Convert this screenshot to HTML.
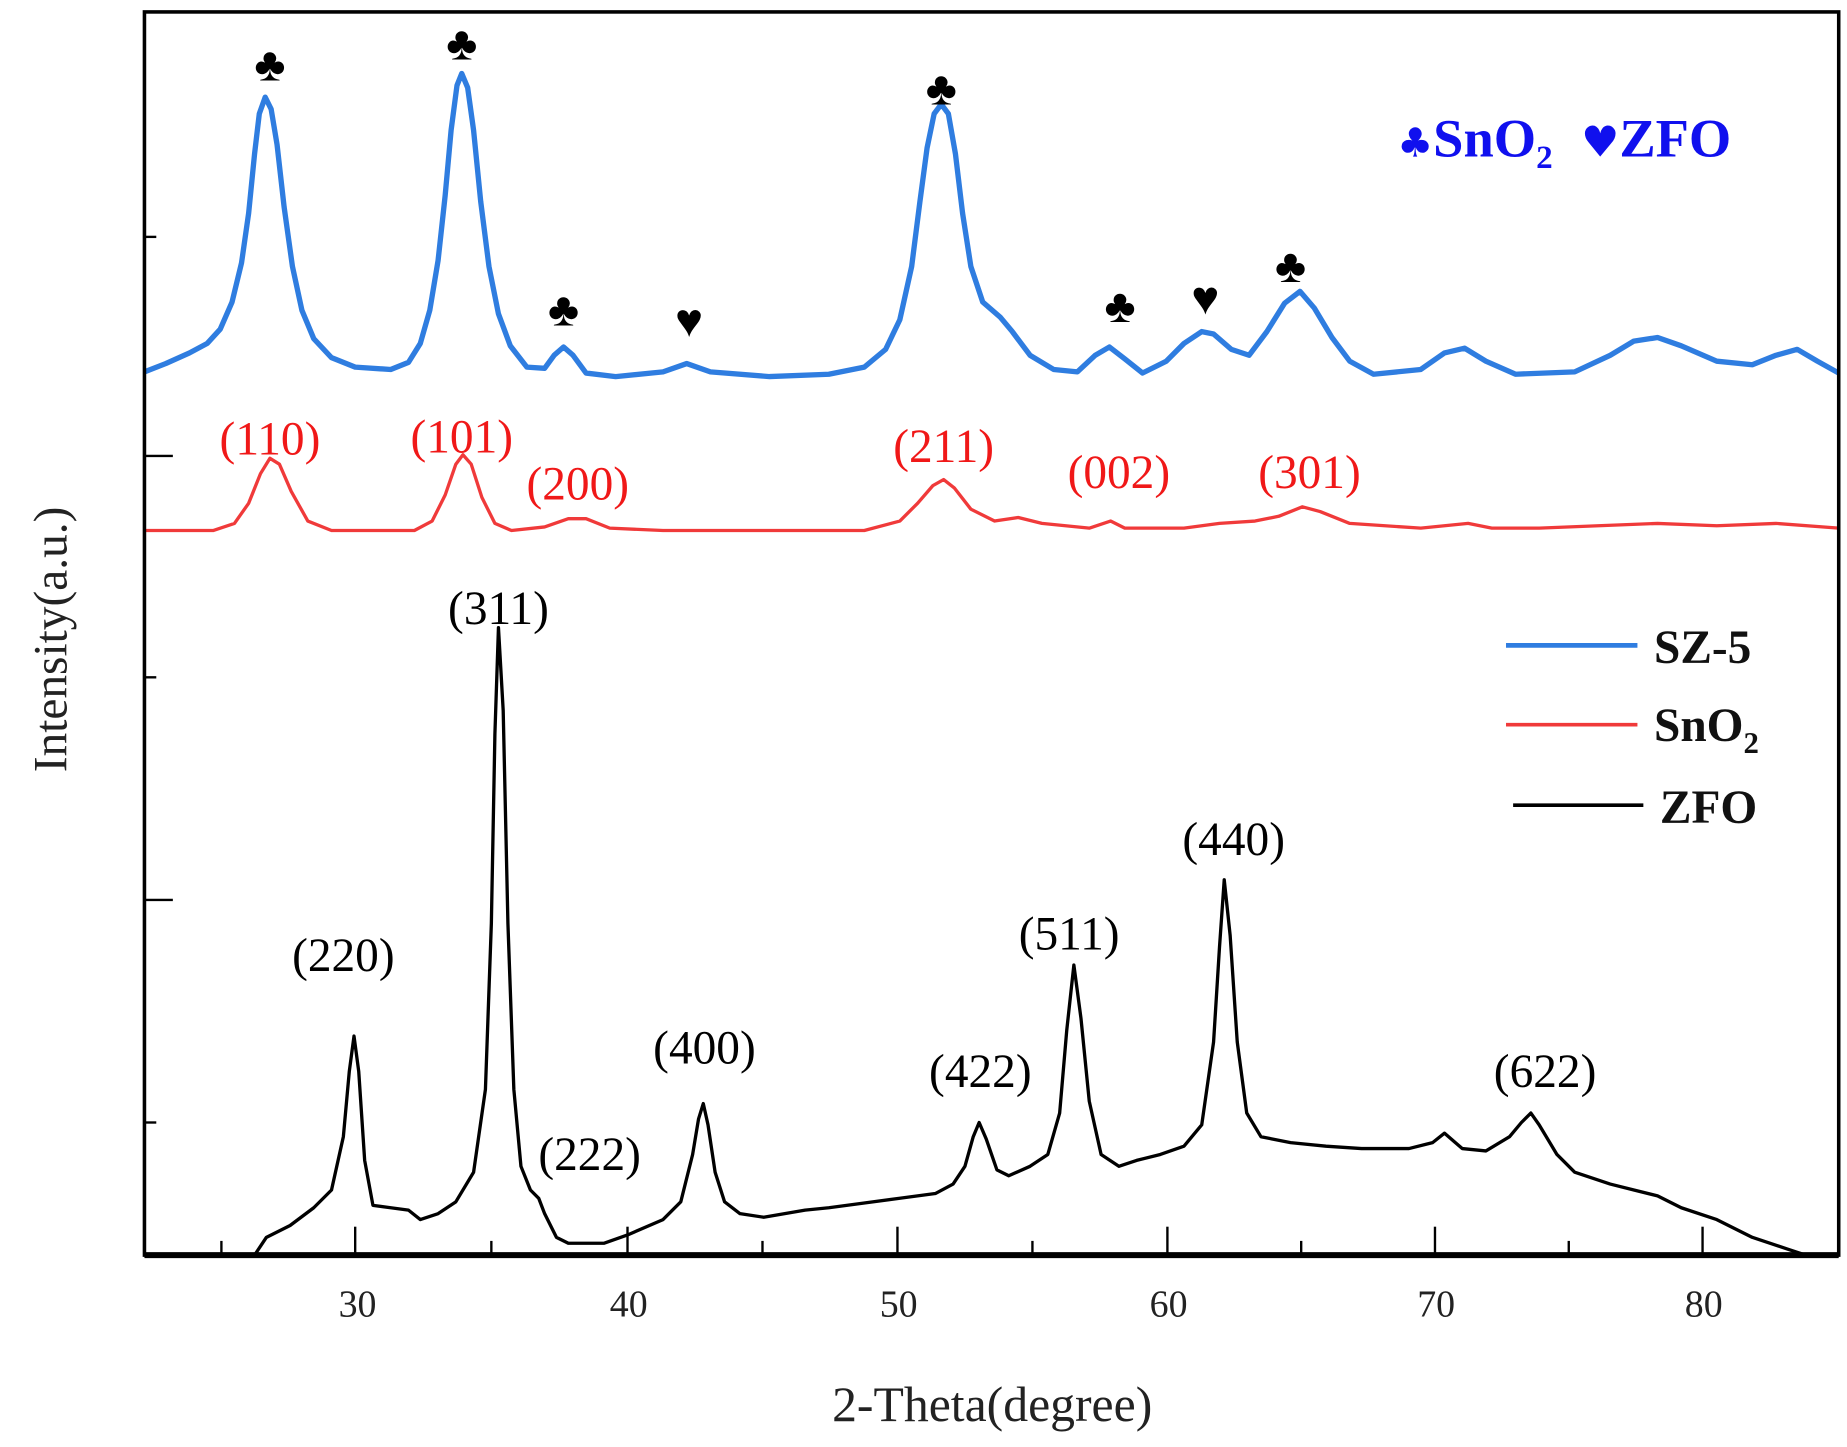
<!DOCTYPE html>
<html><head><meta charset="utf-8"><style>
html,body{margin:0;padding:0;background:#fff;}
svg{display:block;}
text{font-family:"Liberation Serif",serif;}
</style></head><body>
<svg width="1847" height="1447" viewBox="0 0 1560 1222" xmlns="http://www.w3.org/2000/svg">
<rect width="1560" height="1222" fill="#fff"/>
<g fill="none" stroke-linejoin="round">
<path stroke="#2f7de0" stroke-width="4.5" d="M122,314 L140,307 L160,298 L175,290 L186,278 L196,255 L204,222 L210,180 L215,130 L219,96 L224,82 L229,92 L234,122 L240,175 L247,225 L255,262 L265,286 L280,302 L300,310 L330,312 L345,306 L355,290 L363,262 L370,220 L376,165 L381,110 L386,72 L390,62 L395,74 L400,110 L406,170 L413,225 L421,265 L431,292 L445,310 L460,311 L468,300 L476,293 L484,300 L495,315 L520,318 L560,314 L580,307 L600,314 L650,318 L700,316 L730,310 L748,295 L760,270 L770,225 L777,170 L783,125 L789,96 L795,88 L801,96 L807,130 L813,180 L820,225 L830,255 L845,268 L855,280 L870,300 L890,312 L910,314 L925,300 L937,293 L950,303 L965,315 L985,305 L1000,290 L1015,280 L1025,282 L1040,295 L1055,300 L1070,280 L1085,256 L1098,246 L1110,260 L1125,285 L1140,305 L1160,316 L1200,312 L1220,298 L1237,294 L1255,305 L1280,316 L1330,314 L1360,300 L1380,288 L1400,285 L1420,292 L1450,305 L1480,308 L1500,300 L1518,295 L1535,305 L1553,315"/>
<path stroke="#f03a3a" stroke-width="2.8" d="M122,448 L180,448 L198,442 L210,425 L220,400 L228,387 L236,392 L246,415 L260,440 L280,448 L350,448 L365,440 L376,418 L385,392 L391,384 L398,392 L407,420 L418,442 L432,448 L460,445 L480,438 L495,438 L515,446 L560,448 L730,448 L760,440 L775,425 L788,410 L797,405 L806,412 L820,430 L840,440 L860,437 L880,442 L920,446 L938,440 L950,446 L1000,446 L1030,442 L1060,440 L1080,436 L1100,428 L1115,432 L1140,442 L1200,446 L1240,442 L1260,446 L1300,446 L1350,444 L1400,442 L1450,444 L1500,442 L1553,446"/>
<path stroke="#000" stroke-width="2.8" d="M215,1060 L225,1045 L245,1035 L265,1020 L280,1005 L290,960 L295,905 L299,875 L303,905 L308,980 L315,1018 L330,1020 L345,1022 L355,1030 L370,1025 L385,1015 L400,990 L410,920 L415,780 L418,620 L421,530 L425,600 L429,780 L434,920 L440,985 L448,1005 L455,1012 L460,1025 L470,1045 L480,1050 L510,1050 L530,1043 L560,1030 L575,1015 L585,975 L590,945 L594,932 L598,950 L604,990 L612,1015 L625,1025 L645,1028 L680,1022 L700,1020 L730,1016 L760,1012 L790,1008 L805,1000 L815,985 L822,960 L827,948 L833,962 L842,988 L852,993 L870,985 L885,975 L895,940 L901,870 L907,815 L913,860 L920,930 L930,975 L945,985 L960,980 L980,975 L1000,968 L1015,950 L1025,880 L1030,800 L1034,743 L1039,790 L1045,880 L1053,940 L1065,960 L1090,965 L1120,968 L1150,970 L1190,970 L1210,965 L1220,957 L1235,970 L1255,972 L1275,960 L1285,948 L1293,940 L1300,950 L1315,975 L1330,990 L1360,1000 L1380,1005 L1400,1010 L1420,1020 L1450,1030 L1480,1045 L1510,1055 L1525,1060"/>
</g>
<rect x="122" y="10" width="1431" height="1050" fill="none" stroke="#000" stroke-width="3"/>
<line x1="122" y1="1060" x2="1553" y2="1060" stroke="#000" stroke-width="5"/>
<g stroke="#000" stroke-width="2">
<line x1="122" y1="200" x2="132" y2="200"/><line x1="122" y1="385" x2="146" y2="385"/>
<line x1="122" y1="572" x2="132" y2="572"/><line x1="122" y1="760" x2="146" y2="760"/>
<line x1="122" y1="948" x2="132" y2="948"/>
<line x1="187" y1="1060" x2="187" y2="1048"/><line x1="300" y1="1060" x2="300" y2="1036"/>
<line x1="415" y1="1060" x2="415" y2="1048"/><line x1="530" y1="1060" x2="530" y2="1036"/>
<line x1="644" y1="1060" x2="644" y2="1048"/><line x1="758" y1="1060" x2="758" y2="1036"/>
<line x1="872" y1="1060" x2="872" y2="1048"/><line x1="986" y1="1060" x2="986" y2="1036"/>
<line x1="1099" y1="1060" x2="1099" y2="1048"/><line x1="1212" y1="1060" x2="1212" y2="1036"/>
<line x1="1325" y1="1060" x2="1325" y2="1048"/><line x1="1438" y1="1060" x2="1438" y2="1036"/>
</g>
<g font-size="32" text-anchor="middle" fill="#222">
<text x="302" y="1112">30</text><text x="531" y="1112">40</text><text x="759" y="1112">50</text>
<text x="987" y="1112">60</text><text x="1213" y="1112">70</text><text x="1439" y="1112">80</text>
</g>
<text x="838" y="1200" font-size="42" text-anchor="middle" fill="#222">2-Theta(degree)</text>
<text transform="translate(56,540) rotate(-90)" font-size="40" text-anchor="middle" fill="#222">Intensity(a.u.)</text>
<g font-size="40" text-anchor="middle" fill="#000" font-family="DejaVu Sans">
<text x="228" y="68">♣</text><text x="390" y="50">♣</text><text x="476" y="275">♣</text>
<text x="582" y="284">♥</text><text x="795" y="88">♣</text><text x="946" y="272">♣</text>
<text x="1018" y="265">♥</text><text x="1090" y="238">♣</text>
</g>
<text x="1180" y="132" font-size="46" font-weight="bold" fill="#1010ee"><tspan font-family="DejaVu Sans" font-size="34">♣</tspan>SnO<tspan font-size="28" dy="10">2</tspan><tspan dy="-10" dx="24" font-family="DejaVu Sans" font-size="36">♥</tspan>ZFO</text>
<g font-size="40" text-anchor="middle" fill="#f01818">
<text x="228" y="384">(110)</text><text x="390" y="382">(101)</text><text x="488" y="422">(200)</text>
<text x="797" y="390">(211)</text><text x="945" y="412">(002)</text><text x="1106" y="412">(301)</text>
</g>
<g font-size="40" text-anchor="middle" fill="#000">
<text x="421" y="527">(311)</text><text x="290" y="820">(220)</text><text x="498" y="988">(222)</text>
<text x="595" y="898">(400)</text><text x="828" y="918">(422)</text><text x="903" y="802">(511)</text>
<text x="1042" y="722">(440)</text><text x="1305" y="918">(622)</text>
</g>
<line x1="1272" y1="545" x2="1383" y2="545" stroke="#2f7de0" stroke-width="4"/>
<line x1="1272" y1="612" x2="1383" y2="612" stroke="#f03a3a" stroke-width="3"/>
<line x1="1278" y1="680" x2="1388" y2="680" stroke="#000" stroke-width="3"/>
<g font-size="40" font-weight="bold" fill="#111">
<text x="1397" y="560">SZ-5</text>
<text x="1397" y="626">SnO<tspan font-size="26" dy="10">2</tspan></text>
<text x="1402" y="695">ZFO</text>
</g>
</svg>
</body></html>
